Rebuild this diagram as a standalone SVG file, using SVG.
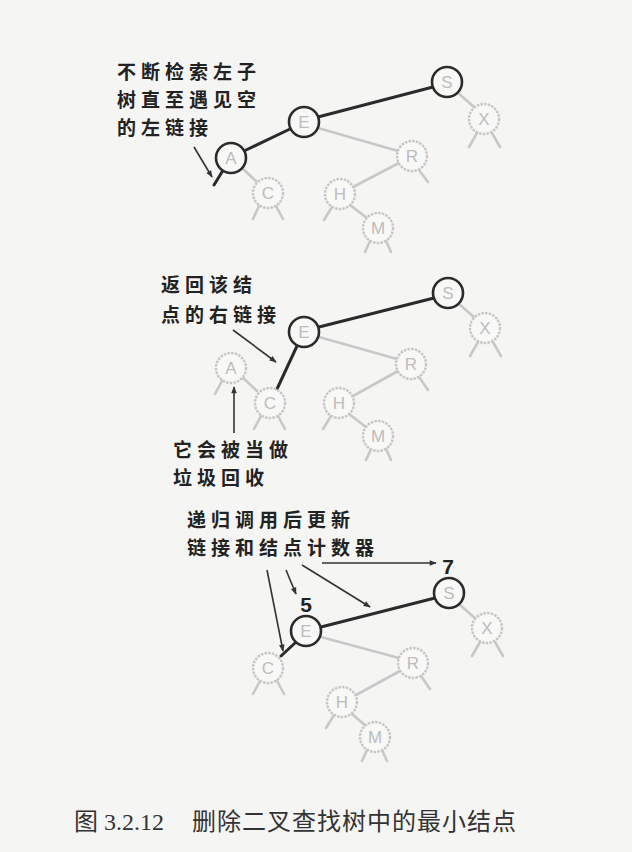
<svg xmlns="http://www.w3.org/2000/svg" width="632" height="852" viewBox="0 0 632 852">
<style>
.bg{fill:#f5f5f3}
.nb circle{fill:#f8f8f6;stroke:#2b2b2b;stroke-width:2.6}
.ng circle{fill:#f8f8f6;stroke:#c6c6c6;stroke-width:2.4;stroke-dasharray:2.5 1.2}
.nb text,.ng text{font-family:"Liberation Sans",Arial,sans-serif;font-size:17px;fill:#bdbdbd;text-anchor:middle;dominant-baseline:central}
.lb{stroke:#2b2b2b;stroke-width:3;fill:none;stroke-linecap:round}
.lg{stroke:#c8c8c8;stroke-width:2.6;fill:none;stroke-linecap:round}
.ar{stroke:#333;stroke-width:1.6;fill:none;marker-end:url(#ah)}
.lbl{font-family:"Noto Sans CJK SC","Noto Sans",sans-serif;font-size:19px;letter-spacing:5px;fill:#222;font-weight:bold}
.num{font-family:"Liberation Sans",Arial,sans-serif;font-size:21px;font-weight:bold;fill:#222;text-anchor:middle}
.cap{font-family:"Liberation Serif","Noto Sans CJK SC",serif;font-size:24px;fill:#333}
</style>
<defs>
<marker id="ah" viewBox="0 0 10 10" refX="9" refY="5" markerWidth="8" markerHeight="7" orient="auto" markerUnits="userSpaceOnUse">
<path d="M0,1 L10,5 L0,9 Z" fill="#333"/>
</marker>
</defs>
<rect class="bg" x="0" y="0" width="632" height="852"/>

<g id="connectors">
<!-- tree 1 -->
<line class="lb" x1="433" y1="87" x2="318" y2="117"/>
<line class="lb" x1="290" y1="129" x2="244" y2="151"/>
<line class="lb" x1="222" y1="172" x2="214" y2="185"/>
<line class="lg" x1="458" y1="93" x2="474" y2="107"/>
<line class="lg" x1="477" y1="133" x2="469" y2="147"/>
<line class="lg" x1="492" y1="133" x2="500" y2="147"/>
<line class="lg" x1="318" y1="128" x2="398" y2="151"/>
<line class="lg" x1="419" y1="170" x2="428" y2="182"/>
<line class="lg" x1="399" y1="163" x2="353" y2="187"/>
<line class="lg" x1="332" y1="207" x2="324" y2="220"/>
<line class="lg" x1="350" y1="205" x2="367" y2="218"/>
<line class="lg" x1="370" y1="241" x2="365" y2="252"/>
<line class="lg" x1="386" y1="241" x2="391" y2="252"/>
<line class="lg" x1="241" y1="167" x2="256" y2="181"/>
<line class="lg" x1="259" y1="206" x2="253" y2="219"/>
<line class="lg" x1="276" y1="206" x2="283" y2="219"/>
<line class="ar" x1="194" y1="147" x2="212" y2="177"/>

<!-- tree 2 -->
<line class="lb" x1="434" y1="298" x2="319" y2="327"/>
<line class="lb" x1="297" y1="346" x2="277" y2="389"/>
<line class="lg" x1="459" y1="304" x2="475" y2="318"/>
<line class="lg" x1="478" y1="342" x2="470" y2="356"/>
<line class="lg" x1="493" y1="342" x2="501" y2="356"/>
<line class="lg" x1="319" y1="337" x2="397" y2="359"/>
<line class="lg" x1="419" y1="377" x2="428" y2="390"/>
<line class="lg" x1="398" y1="371" x2="353" y2="396"/>
<line class="lg" x1="331" y1="416" x2="323" y2="429"/>
<line class="lg" x1="349" y1="414" x2="366" y2="427"/>
<line class="lg" x1="371" y1="449" x2="366" y2="460"/>
<line class="lg" x1="386" y1="449" x2="391" y2="460"/>
<line class="lg" x1="242" y1="377" x2="257" y2="391"/>
<line class="lg" x1="222" y1="381" x2="215" y2="394"/>
<line class="lg" x1="261" y1="416" x2="254" y2="429"/>
<line class="lg" x1="278" y1="416" x2="285" y2="429"/>
<line class="ar" x1="233" y1="330" x2="276" y2="362"/>
<line class="ar" x1="234" y1="433" x2="234" y2="387"/>

<!-- tree 3 -->
<line class="lb" x1="435" y1="598" x2="321" y2="627"/>
<line class="lb" x1="295" y1="643" x2="281" y2="656"/>
<line class="lg" x1="460" y1="605" x2="476" y2="619"/>
<line class="lg" x1="480" y1="642" x2="472" y2="656"/>
<line class="lg" x1="495" y1="642" x2="503" y2="656"/>
<line class="lg" x1="321" y1="637" x2="399" y2="658"/>
<line class="lg" x1="421" y1="676" x2="430" y2="689"/>
<line class="lg" x1="400" y1="671" x2="356" y2="695"/>
<line class="lg" x1="334" y1="715" x2="326" y2="728"/>
<line class="lg" x1="352" y1="714" x2="366" y2="726"/>
<line class="lg" x1="367" y1="750" x2="362" y2="761"/>
<line class="lg" x1="382" y1="750" x2="387" y2="761"/>
<line class="lg" x1="260" y1="681" x2="253" y2="694"/>
<line class="lg" x1="277" y1="681" x2="284" y2="694"/>
<line class="ar" x1="267" y1="570" x2="283" y2="651"/>
<line class="ar" x1="286" y1="570" x2="296" y2="594"/>
<line class="ar" x1="302" y1="565" x2="370" y2="607"/>
<line class="ar" x1="322" y1="563" x2="436" y2="563"/>
</g>

<!-- tree 1 nodes -->
<g id="t1-S" class="nb"><circle cx="447" cy="82" r="15"/><text x="447" y="82">S</text></g>
<g id="t1-E" class="nb"><circle cx="304" cy="122" r="15"/><text x="304" y="122">E</text></g>
<g id="t1-A" class="nb"><circle cx="231" cy="158" r="15"/><text x="231" y="158">A</text></g>
<g id="t1-X" class="ng"><circle cx="484" cy="119" r="15"/><text x="484" y="119">X</text></g>
<g id="t1-R" class="ng"><circle cx="412" cy="156" r="15"/><text x="412" y="156">R</text></g>
<g id="t1-C" class="ng"><circle cx="268" cy="193" r="15"/><text x="268" y="193">C</text></g>
<g id="t1-H" class="ng"><circle cx="340" cy="194" r="15"/><text x="340" y="194">H</text></g>
<g id="t1-M" class="ng"><circle cx="378" cy="228" r="15"/><text x="378" y="228">M</text></g>

<!-- tree 2 nodes -->
<g id="t2-S" class="nb"><circle cx="448" cy="293" r="15"/><text x="448" y="293">S</text></g>
<g id="t2-E" class="nb"><circle cx="304" cy="332" r="15"/><text x="304" y="332">E</text></g>
<g id="t2-A" class="ng"><circle cx="231" cy="368" r="15"/><text x="231" y="368">A</text></g>
<g id="t2-C" class="ng"><circle cx="270" cy="403" r="15"/><text x="270" y="403">C</text></g>
<g id="t2-X" class="ng"><circle cx="485" cy="328" r="15"/><text x="485" y="328">X</text></g>
<g id="t2-R" class="ng"><circle cx="411" cy="364" r="15"/><text x="411" y="364">R</text></g>
<g id="t2-H" class="ng"><circle cx="339" cy="403" r="15"/><text x="339" y="403">H</text></g>
<g id="t2-M" class="ng"><circle cx="378" cy="436" r="15"/><text x="378" y="436">M</text></g>

<!-- tree 3 nodes -->
<g id="t3-S" class="nb"><circle cx="449" cy="593" r="15"/><text x="449" y="593">S</text></g>
<g id="t3-E" class="nb"><circle cx="306" cy="631" r="15"/><text x="306" y="631">E</text></g>
<g id="t3-C" class="ng"><circle cx="268" cy="668" r="15"/><text x="268" y="668">C</text></g>
<g id="t3-X" class="ng"><circle cx="487" cy="628" r="15"/><text x="487" y="628">X</text></g>
<g id="t3-R" class="ng"><circle cx="413" cy="663" r="15"/><text x="413" y="663">R</text></g>
<g id="t3-H" class="ng"><circle cx="342" cy="702" r="15"/><text x="342" y="702">H</text></g>
<g id="t3-M" class="ng"><circle cx="375" cy="737" r="15"/><text x="375" y="737">M</text></g>

<!-- labels -->
<g id="labels">
<text class="lbl" x="117" y="79"><tspan x="117" y="79">不断检索左子</tspan><tspan x="117" y="107">树直至遇见空</tspan><tspan x="117" y="135">的左链接</tspan></text>
<text class="lbl" x="161" y="292"><tspan x="161" y="292">返回该结</tspan><tspan x="161" y="322">点的右链接</tspan></text>
<text class="lbl" x="173" y="457"><tspan x="173" y="457">它会被当做</tspan><tspan x="173" y="485">垃圾回收</tspan></text>
<text class="lbl" x="187" y="527"><tspan x="187" y="527">递归调用后更新</tspan><tspan x="187" y="555">链接和结点计数器</tspan></text>
<text class="num" x="306" y="612">5</text>
<text class="num" x="448" y="574">7</text>
<text class="cap" x="74" y="830">图 3.2.12</text>
<text class="cap" x="192" y="830" letter-spacing="1">删除二叉查找树中的最小结点</text>
</g>
</svg>
